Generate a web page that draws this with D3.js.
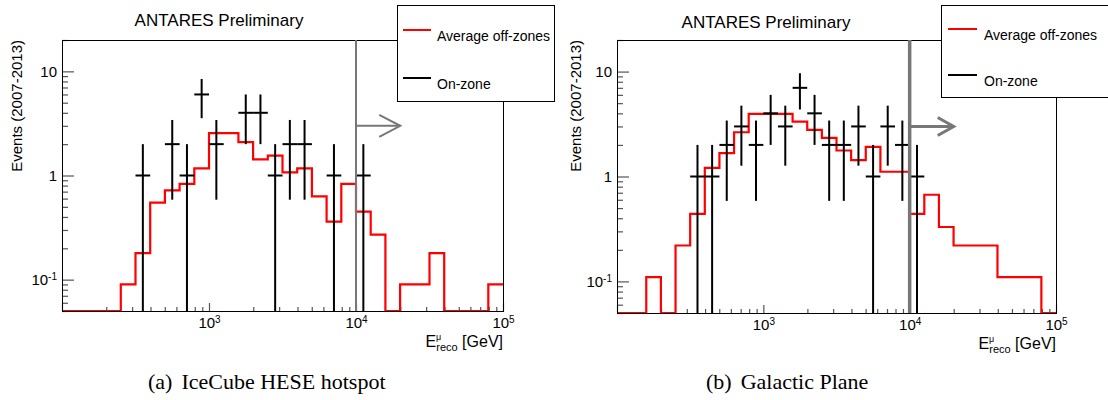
<!DOCTYPE html>
<html>
<head>
<meta charset="utf-8">
<script src="https://cdn.jsdelivr.net/npm/d3@7"></script>
<style>
  body { margin: 0; background: #fff; }
  text { font-family: "Liberation Sans", Arial, Helvetica, sans-serif; fill: #000; }
  .caption { font-family: "Liberation Serif", "Times New Roman", serif; }
</style>
</head>
<body>
<svg width="1108" height="400"></svg>
<script>
// bin edges in log10(E_reco / GeV), 0.1 decade bins
var binEdgesExp = [2.0, 2.1, 2.2, 2.3, 2.4, 2.5, 2.6, 2.7, 2.8, 2.9,
                   3.0, 3.1, 3.2, 3.3, 3.4, 3.5, 3.6, 3.7, 3.8, 3.9,
                   4.0, 4.1, 4.2, 4.3, 4.4, 4.5, 4.6, 4.7, 4.8, 4.9, 5.0];

// (a) IceCube HESE hotspot
var offHotspot = [0, 0, 0, 0, 0.09, 0.18, 0.55, 0.72, 0.83, 1.17,
                  2.55, 2.55, 2.09, 1.43, 1.55, 1.07, 1.17, 0.63, 0.36, 0.83,
                  0.45, 0.27, 0, 0.09, 0.09, 0.18, 0, 0, 0, 0.09];
var onHotspot  = [0, 0, 0, 0, 0, 1, 0, 2, 1, 6,
                  2, 0, 4, 4, 1, 2, 2, 0, 1, 0,
                  1, 0, 0, 0, 0, 0, 0, 0, 0, 0];

// (b) Galactic Plane
var offPlane = [0, 0, 0.11, 0, 0.22, 0.44, 1.21, 1.67, 2.64, 3.95,
                3.95, 3.95, 3.34, 2.78, 2.33, 1.77, 1.43, 1.92, 1.11, 1.11,
                0.44, 0.67, 0.33, 0.22, 0.22, 0.22, 0.11, 0.11, 0.11, 0];
var onPlane  = [0, 0, 0, 0, 0, 1, 1, 2, 3, 2,
                4, 3, 7, 4, 2, 2, 3, 1, 3, 2,
                1, 0, 0, 0, 0, 0, 0, 0, 0, 0];

var xMajor = [1e2, 1e3, 1e4, 1e5];
var xLabelExp = [3, 4, 5];
var yMajor = [0.1, 1, 10];
var yLabels = [["10", "-1"], ["1", ""], ["10", ""]];
var cutEnergy = 1e4, arrowEnd = 2e4, arrowLevel = 3;
var legendNames = ["Average off-zones", "On-zone"];

var svg = d3.select("svg");

var panels = [
  { off: offHotspot, on: onHotspot, left: 62, right: 503, top: 40, bottom: 311,
    capTag: "(a)", capText: "IceCube HESE hotspot", capX: 148,
    titleX: 219, titleY: 26, ylabX: 22,
    legend: { x: 397, y: 5, w: 157, h: 96, line0: 403, line1: 431, text: 437, r1: 30, r2: 78 },
    cutWidth: 2, arrowW: 2, headX: 21, headY: 11 },
  { off: offPlane, on: onPlane, left: 617, right: 1056, top: 40, bottom: 313,
    capTag: "(b)", capText: "Galactic Plane", capX: 706,
    titleX: 766, titleY: 28, ylabX: 581,
    legend: { x: 941, y: 5, w: 200, h: 92, line0: 948, line1: 977, text: 984, r1: 29, r2: 75 },
    cutWidth: 3.5, arrowW: 3, headX: 16, headY: 9 }
];

function minorTicks(lo, hi) {
  var t = [];
  for (var e = Math.floor(Math.log10(lo)); e <= Math.ceil(Math.log10(hi)); e++) {
    for (var m = 2; m <= 9; m++) {
      var v = m * Math.pow(10, e);
      if (v >= lo * 0.999 && v <= hi * 1.001) t.push(v);
    }
  }
  return t;
}

panels.forEach(function(p) {
  var x = d3.scaleLog().domain([1e2, 1e5]).range([p.left, p.right]);
  var y = d3.scaleLog().domain([0.05, 20]).range([p.bottom, p.top]);
  var ymin = y.domain()[0];
  var g = svg.append("g");

  // axes: ticks only, frame is drawn separately
  var yMinorAxis = g.append("g").attr("transform", "translate(" + p.left + ",0)")
    .call(d3.axisLeft(y).tickValues(minorTicks(0.05, 20)).tickSize(-6).tickFormat(""));
  var yAxis = g.append("g").attr("transform", "translate(" + p.left + ",0)")
    .call(d3.axisLeft(y).tickValues(yMajor).tickSize(-12).tickPadding(5));
  var xMinorAxis = g.append("g").attr("transform", "translate(0," + p.bottom + ")")
    .call(d3.axisBottom(x).tickValues(minorTicks(1e2, 1e5)).tickSize(-4).tickFormat(""));
  var xAxis = g.append("g").attr("transform", "translate(0," + p.bottom + ")")
    .call(d3.axisBottom(x).tickValues(xMajor).tickSize(-8).tickPadding(6));

  [yMinorAxis, yAxis, xMinorAxis, xAxis].forEach(function(a) {
    a.select(".domain").remove();
    a.selectAll(".tick line").attr("stroke", "#555").attr("stroke-width", 1.2);
  });

  yAxis.selectAll(".tick text").each(function(d, i) {
    var t = d3.select(this).text(yLabels[i][0]).style("font-size", "15px")
      .attr("font-family", null);
    if (yLabels[i][1]) t.append("tspan").attr("dy", "-0.45em").style("font-size", "10px").text(yLabels[i][1]);
  });
  xAxis.selectAll(".tick text").each(function(d, i) {
    var t = d3.select(this).text("").style("font-size", "15px").attr("font-family", null);
    if (i === 0) return;
    t.text("10");
    t.append("tspan").attr("dy", "-0.45em").style("font-size", "10px").text(xLabelExp[i - 1]);
  });

  // average off-zones histogram (step outline)
  var pts = [];
  p.off.forEach(function(v, i) {
    var lo = Math.pow(10, binEdgesExp[i]), hi = Math.pow(10, binEdgesExp[i + 1]);
    var vv = Math.max(v, ymin);
    pts.push([x(lo), y(vv)], [x(hi), y(vv)]);
  });
  g.append("path").attr("d", d3.line()(pts))
    .attr("fill", "none").attr("stroke", "#ff0000").attr("stroke-width", 2.2);

  // on-zone counts with sqrt(N) errors
  var bins = p.on.map(function(n, i) {
    return { n: n, lo: Math.pow(10, binEdgesExp[i]), hi: Math.pow(10, binEdgesExp[i + 1]),
             c: Math.pow(10, (binEdgesExp[i] + binEdgesExp[i + 1]) / 2) };
  }).filter(function(d) { return d.n > 0; });

  var eb = g.append("g").attr("stroke", "#000").attr("stroke-width", 2);
  eb.selectAll(".h").data(bins).enter().append("line")
    .attr("x1", function(d) { return x(d.lo); })
    .attr("x2", function(d) { return x(d.hi); })
    .attr("y1", function(d) { return y(d.n); })
    .attr("y2", function(d) { return y(d.n); });
  eb.selectAll(".v").data(bins).enter().append("line")
    .attr("x1", function(d) { return x(d.c); })
    .attr("x2", function(d) { return x(d.c); })
    .attr("y1", function(d) { return y(d.n + Math.sqrt(d.n)); })
    .attr("y2", function(d) { return y(Math.max(d.n - Math.sqrt(d.n), ymin)); });

  // frame
  g.append("rect").attr("x", p.left + 0.5).attr("y", p.top + 0.5)
    .attr("width", p.right - p.left).attr("height", p.bottom - p.top)
    .attr("fill", "none").attr("stroke", "#000").attr("stroke-width", 1);

  // energy cut and arrow
  var gray = "#777";
  g.append("line").attr("x1", x(cutEnergy)).attr("x2", x(cutEnergy))
    .attr("y1", p.top).attr("y2", p.bottom)
    .attr("stroke", gray).attr("stroke-width", p.cutWidth);
  var ax = x(arrowEnd), ay = y(arrowLevel);
  g.append("line").attr("x1", x(cutEnergy)).attr("x2", ax).attr("y1", ay).attr("y2", ay)
    .attr("stroke", gray).attr("stroke-width", p.arrowW);
  g.append("path")
    .attr("d", d3.line()([[ax - p.headX, ay - p.headY], [ax, ay], [ax - p.headX, ay + p.headY]]))
    .attr("fill", "none").attr("stroke", gray).attr("stroke-width", p.arrowW);

  // titles
  g.append("text").attr("x", p.titleX).attr("y", p.titleY).attr("text-anchor", "middle")
    .style("font-size", "17px").text("ANTARES Preliminary");
  g.append("text").attr("transform", "translate(" + p.ylabX + "," + p.top + ") rotate(-90)")
    .attr("text-anchor", "end").style("font-size", "15px").text("Events (2007-2013)");

  var xl = g.append("text").attr("x", p.right).attr("y", p.bottom + 36)
    .attr("text-anchor", "end").style("font-size", "16px").text("E");
  xl.append("tspan").attr("dy", -7).style("font-size", "9px").text("\u03bc");
  xl.append("tspan").attr("dx", -5).attr("dy", 11).style("font-size", "11px").text("reco");
  xl.append("tspan").attr("dy", -4).style("font-size", "16px").text(" [GeV]");

  // legend
  var L = p.legend;
  var lg = g.append("g");
  lg.append("rect").attr("x", L.x + 0.5).attr("y", L.y + 0.5).attr("width", L.w).attr("height", L.h)
    .attr("fill", "#fff").attr("stroke", "#000").attr("stroke-width", 1);
  [["#ff0000", L.r1], ["#000", L.r2]].forEach(function(e, i) {
    lg.append("line").attr("x1", L.line0).attr("x2", L.line1).attr("y1", e[1]).attr("y2", e[1])
      .attr("stroke", e[0]).attr("stroke-width", 2);
    lg.append("text").attr("x", L.text).attr("y", e[1] + 11).style("font-size", "14px").text(legendNames[i]);
  });

  // caption
  var cap = svg.append("text").attr("class", "caption").attr("x", p.capX).attr("y", 389)
    .style("font-size", "22px").text(p.capTag);
  cap.append("tspan").attr("dx", 9).text(p.capText);
});
</script>
</body>
</html>
